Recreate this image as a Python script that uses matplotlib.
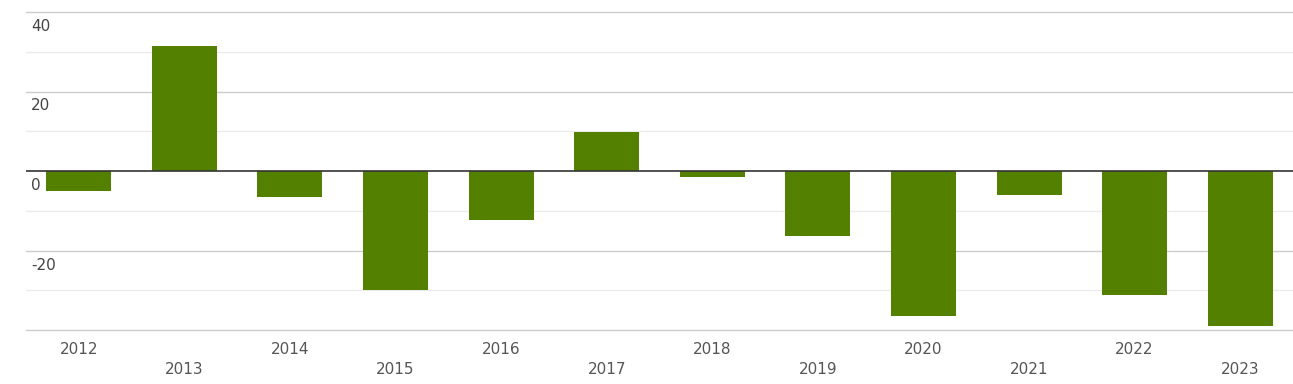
import matplotlib
matplotlib.use("Agg")
import matplotlib.pyplot as plt
from matplotlib.transforms import offset_copy

years = ["2012", "2013", "2014", "2015", "2016", "2017",
         "2018", "2019", "2020", "2021", "2022", "2023"]
values = [-5.0, 31.4, -6.5, -29.9, -12.3, 9.8, -1.4, -16.4, -36.5, -6.0, -31.2, -38.9]
y_labels = [40, 20, 0, -20]

fig = plt.figure(figsize=(12.93, 3.84), dpi=100)
ax = fig.add_axes([26 / 1293, 1 - 330 / 384, 1 - 26 / 1293, (330 - 12) / 384])

x = list(range(len(years)))
ax.bar(x, values, width=0.615, color="#548000", zorder=2)

ax.set_xlim(-0.5, len(years) - 0.5)
ax.set_ylim(-40, 40)

# grid lines
for v in [40, 20, -20, -40]:
    ax.axhline(v, color="#cccccc", linewidth=1, zorder=0, clip_on=False)
for v in [30, 10, -10, -30]:
    ax.axhline(v, color="#ebebeb", linewidth=1, zorder=0)
ax.axhline(0, color="#333333", linewidth=1.2, zorder=3)

for s in ax.spines.values():
    s.set_visible(False)
ax.set_xticks([])
ax.set_yticks([])

# y labels sit just under their grid line
tr = offset_copy(ax.transData, fig=fig, x=5, y=-7, units="dots")
for v in y_labels:
    ax.text(-0.5, v, str(v), transform=tr, ha="left", va="top",
            fontsize=11, color="#444444")

# alternating year labels
for i, yr in enumerate(years):
    dy = -19 if i % 2 == 0 else -39
    t = offset_copy(ax.transData, fig=fig, x=0, y=dy, units="dots")
    ax.text(i, -40, yr, transform=t, ha="center", va="center",
            fontsize=11, color="#555555")

fig.savefig("out.png", dpi=100)
